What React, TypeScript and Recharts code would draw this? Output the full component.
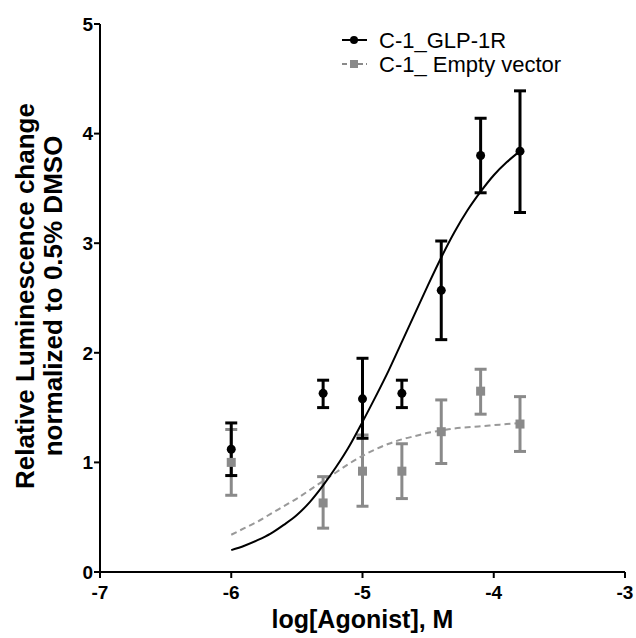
import React from 'react';
import {
  ComposedChart,
  Scatter,
  Line,
  XAxis,
  YAxis,
  ErrorBar,
  Label
} from 'recharts';

// log[Agonist] doses
const DOSES = [-6, -5.3, -5, -4.7, -4.4, -4.1, -3.8];

// C-1_GLP-1R: mean with error bar bottom / top
const GLP_MEAN = [1.12, 1.63, 1.58, 1.63, 2.57, 3.8, 3.84];
const GLP_LOW = [0.88, 1.5, 1.22, 1.5, 2.12, 3.46, 3.28];
const GLP_HIGH = [1.36, 1.75, 1.95, 1.75, 3.02, 4.14, 4.39];

// C-1_ Empty vector
const EV_MEAN = [1.0, 0.63, 0.92, 0.92, 1.28, 1.65, 1.35];
const EV_LOW = [0.7, 0.4, 0.6, 0.67, 0.99, 1.44, 1.1];
const EV_HIGH = [1.3, 0.87, 1.25, 1.17, 1.57, 1.85, 1.6];

// fitted curves
const CURVE_X = [-6, -5.9, -5.8, -5.7, -5.6, -5.5, -5.4, -5.3, -5.2, -5.1, -5, -4.9, -4.8, -4.7, -4.6, -4.5, -4.4, -4.3, -4.2, -4.1, -4, -3.9, -3.8];
const GLP_FIT = [0.2, 0.24, 0.29, 0.35, 0.43, 0.52, 0.64, 0.79, 0.96, 1.15, 1.37, 1.6, 1.84, 2.1, 2.36, 2.62, 2.87, 3.1, 3.3, 3.47, 3.62, 3.74, 3.84];
const EV_FIT = [0.34, 0.4, 0.46, 0.53, 0.6, 0.67, 0.75, 0.83, 0.91, 0.99, 1.06, 1.12, 1.17, 1.21, 1.24, 1.27, 1.29, 1.31, 1.32, 1.33, 1.34, 1.35, 1.36];

const X_TICKS = [-7, -6, -5, -4, -3];
const Y_TICKS = [0, 1, 2, 3, 4, 5];

const FONT = '"Liberation Sans", Arial, sans-serif';
const GRAY = '#8a8a8a';

const toPoints = (mean: number[], low: number[], high: number[]) =>
  DOSES.map((x, i) => ({ x, y: mean[i], err: [mean[i] - low[i], high[i] - mean[i]] }));

const glpPoints = toPoints(GLP_MEAN, GLP_LOW, GLP_HIGH);
const evPoints = toPoints(EV_MEAN, EV_LOW, EV_HIGH);
const glpFit = CURVE_X.map((x, i) => ({ x, y: GLP_FIT[i] }));
const evFit = CURVE_X.map((x, i) => ({ x, y: EV_FIT[i] }));

const Dot = (props: any) => <circle cx={props.cx} cy={props.cy} r={4.5} fill="#000" />;
const Square = (props: any) => (
  <rect x={props.cx - 4.5} y={props.cy - 4.5} width={9} height={9} fill={GRAY} />
);

// legend drawn on top of the chart so it takes no room from the plot
const LegendBox = () => (
  <svg width={290} height={58} style={{ position: 'absolute', left: 338, top: 26 }}>
    <line x1={4} y1={14} x2={29} y2={14} stroke="#000" strokeWidth={2} />
    <circle cx={16} cy={14} r={4} fill="#000" />
    <text x={41} y={22} fontFamily={FONT} fontSize={22} fill="#000">C-1_GLP-1R</text>
    <line x1={4} y1={38} x2={29} y2={38} stroke={GRAY} strokeWidth={2} strokeDasharray="5 3" />
    <rect x={12} y={34} width={8} height={8} fill={GRAY} />
    <text x={41} y={46} fontFamily={FONT} fontSize={22} fill="#000">C-1_ Empty vector</text>
  </svg>
);

const YTitle = () => {
  const cy = 296;
  return (
    <g fontFamily={FONT} fontWeight="bold" fontSize={26} fill="#000" textAnchor="middle">
      <text x={34} y={cy} transform={`rotate(-90, 34, ${cy})`}>Relative Luminescence change</text>
      <text x={62} y={cy} transform={`rotate(-90, 62, ${cy})`}>normalized to 0.5% DMSO</text>
    </g>
  );
};

const XTitle = (props: any) => {
  const vb = props.viewBox;
  return (
    <text x={vb.x + vb.width / 2} y={vb.y + 56} fontFamily={FONT} fontWeight="bold" fontSize={25} fill="#000" textAnchor="middle">
      log[Agonist], M
    </text>
  );
};

export default function App() {
  return (
    <div style={{ position: 'absolute', left: 0, top: 0, width: 636, height: 638, background: '#fff' }}>
      <ComposedChart width={636} height={638} margin={{ top: 24, right: 11, bottom: 26, left: 40 }}>
        <XAxis
          dataKey="x"
          type="number"
          domain={[-7, -3]}
          ticks={X_TICKS}
          allowDataOverflow
          height={40}
          stroke="#000"
          strokeWidth={2}
          tickSize={6}
          tickMargin={8}
          tick={{ fontFamily: FONT, fontWeight: 'bold', fontSize: 19, fill: '#000' }}
        >
          <Label content={<XTitle />} />
        </XAxis>
        <YAxis
          type="number"
          domain={[0, 5]}
          ticks={Y_TICKS}
          allowDataOverflow
          width={60}
          stroke="#000"
          strokeWidth={2}
          tickSize={6}
          tickMargin={1}
          tick={{ fontFamily: FONT, fontWeight: 'bold', fontSize: 19, fill: '#000' }}
        >
          <Label content={<YTitle />} />
        </YAxis>
        <Scatter data={evPoints} dataKey="y" shape={<Square />} isAnimationActive={false}>
          <ErrorBar dataKey="err" direction="y" width={6} stroke={GRAY} strokeWidth={3} />
        </Scatter>
        <Scatter data={glpPoints} dataKey="y" shape={<Dot />} isAnimationActive={false}>
          <ErrorBar dataKey="err" direction="y" width={6} stroke="#000" strokeWidth={3} />
        </Scatter>
        <Line data={evFit} dataKey="y" type="monotone" stroke="#999" strokeWidth={2} strokeDasharray="6 4" dot={false} activeDot={false} isAnimationActive={false} />
        <Line data={glpFit} dataKey="y" type="monotone" stroke="#000" strokeWidth={2} dot={false} activeDot={false} isAnimationActive={false} />
      </ComposedChart>
      <LegendBox />
    </div>
  );
}
